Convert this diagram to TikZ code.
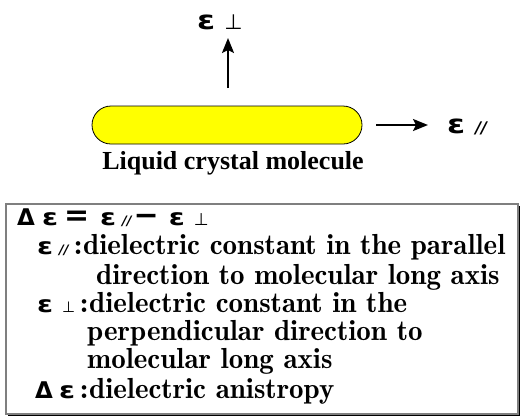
\documentclass[tikz,border=0pt]{standalone}
\usepackage{fontspec}
\usepackage{xcolor}
\usepackage{tikz}
\usetikzlibrary{positioning, arrows.meta, shadows}
\newfontfamily\bodyfont{Latin Modern Roman Demi}
\newfontfamily\labelfont{Liberation Serif}
\newfontfamily\symfont{DejaVu Sans}
\newfontfamily\epsfont{DejaVu Sans}[FakeStretch=1.25]
\definecolor{molfill}{HTML}{FFFF00}
\definecolor{boxline}{HTML}{7F7F7F}
\newcommand{\eps}{{\epsfont\bfseries ε}}
\newcommand{\delt}{{\symfont\bfseries Δ}}
\newcommand{\para}[1][13]{{\fontsize{#1}{#1}\selectfont\symfont\bfseries\itshape //}}
\newcommand{\perpsym}[1][15]{{\fontsize{#1}{#1}\selectfont\symfont ⊥}}
\newcommand{\opsym}[1]{{\fontsize{30}{30}\selectfont\symfont\bfseries #1}}
\tikzset{
  molecule/.style={
    draw=black, thick, fill=molfill,
    rounded corners=19pt,
    minimum width=270pt, minimum height=38pt
  },
  field arrow/.style={
    -{Stealth[length=15pt, width=12pt, inset=3pt]},
    line width=2.2pt
  },
  field label/.style={
    font=\fontsize{26}{26}\selectfont,
    inner sep=0pt, anchor=base west
  },
  mol label/.style={
    font=\labelfont\bfseries\fontsize{26}{26}\selectfont,
    inner sep=0pt, anchor=base
  },
  legend box/.style={
    draw=boxline, line width=1.5pt, fill=white,
    minimum width=512pt, minimum height=210pt,
    inner sep=0pt, anchor=north west,
    drop shadow={shadow xshift=2.5pt, shadow yshift=-2.5pt, fill=black, opacity=1}
  },
  legend sym/.style={
    font=\fontsize{23}{23}\selectfont,
    inner sep=0pt, anchor=base west
  },
  legend text/.style={
    font=\bodyfont\fontsize{29}{30}\selectfont,
    inner sep=0pt, anchor=base west
  }
}

\begin{document}
\begin{tikzpicture}[x=1pt, y=-1pt]
  \useasboundingbox (0,0) rectangle (521,416);

  % molecule and field directions
  \node[molecule] (mol) at (227,125) {};
  \node[mol label] (mollabel) at (233,169) {Liquid crystal molecule};

  \node[field label] (perp) at (197,29) {\eps\hspace{9pt}\perpsym[21]};
  \coordinate (upfoot) at (228,88);
  \coordinate (uptip) at (228,38);
  \draw[field arrow] (upfoot) -- (uptip);

  \coordinate (rightfoot) at (376,125);
  \coordinate (righttip) at (428,125);
  \draw[field arrow] (rightfoot) -- (righttip);
  \node[field label] (par) at (447,133) {\eps\hspace{10pt}\para[16]};

  % definitions
  \node[legend box] (legend) at (5,203) {};
  \node[legend sym] (diff) at (17,225)
    {\delt\hspace{7pt}\eps\hspace{6pt}\opsym{=}\hspace{11pt}\eps\hspace{6pt}\para\hspace{2pt}\opsym{−}\hspace{10pt}\eps\hspace{9pt}\perpsym[17]};

  \node[legend sym] (parsym) at (37,254) {\eps\hspace{6pt}\para};
  \node[legend text] (pardef) at (74,254) {:\kern1pt dielectric constant in the parallel};
  \node[legend text] (pardef2) at (96,284) {direction to molecular long axis};

  \node[legend sym] (perpsym) at (37,312) {\eps\hspace{9pt}\perpsym};
  \node[legend text] (perpdef) at (80,312) {:\kern1pt dielectric constant in the};
  \node[legend text] (perpdef2) at (87,340) {perpendicular direction to};
  \node[legend text] (perpdef3) at (87,368) {molecular long axis};

  \node[legend sym] (diffsym) at (35,398) {\delt\hspace{6pt}\eps};
  \node[legend text] (diffdef) at (80,398) {:\kern1pt dielectric anistropy};
\end{tikzpicture}
\end{document}
